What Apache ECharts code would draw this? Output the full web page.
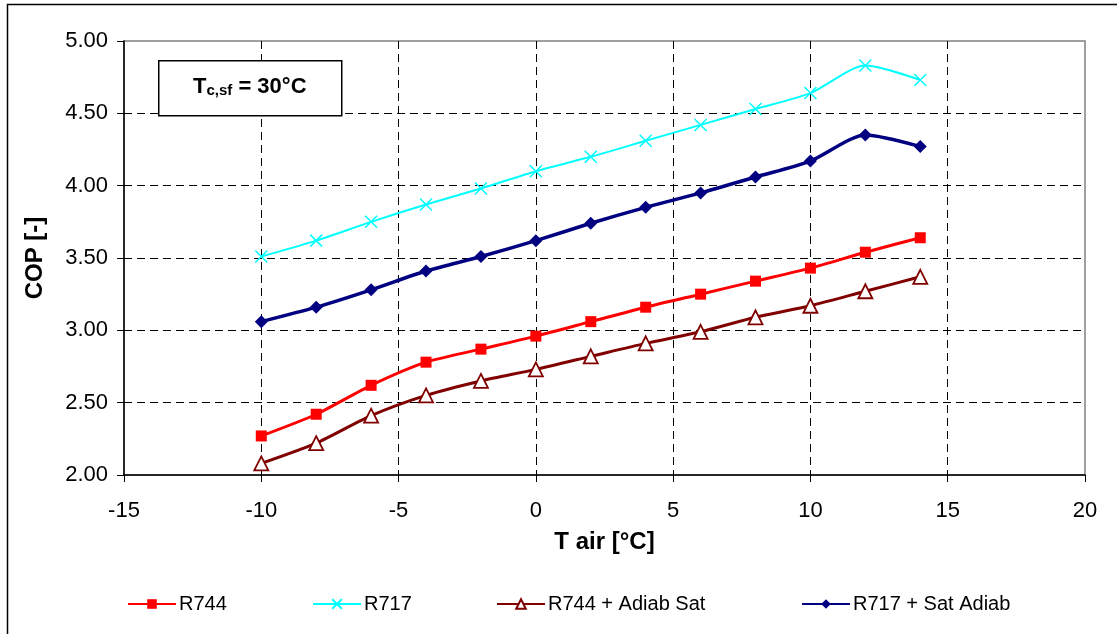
<!DOCTYPE html>
<html>
<head>
<meta charset="utf-8">
<script src="https://cdn.jsdelivr.net/npm/echarts@6/dist/echarts.min.js"></script>
<style>html,body{margin:0;padding:0;background:#fff;}#c{width:1117px;height:634px;}</style>
</head>
<body>
<div id="c"></div>
<script>
const tAir = [-10, -8, -6, -4, -2, 0, 2, 4, 6, 8, 10, 12, 14];
const r744 = [2.27, 2.42, 2.62, 2.78, 2.87, 2.96, 3.06, 3.16, 3.25, 3.34, 3.43, 3.54, 3.64];
const r717 = [3.51, 3.62, 3.75, 3.87, 3.98, 4.10, 4.20, 4.31, 4.42, 4.53, 4.64, 4.83, 4.73];
const r744Adiab = [2.08, 2.22, 2.41, 2.55, 2.65, 2.73, 2.82, 2.91, 2.99, 3.09, 3.17, 3.27, 3.37];
const r717Sat = [3.06, 3.16, 3.28, 3.41, 3.51, 3.62, 3.74, 3.85, 3.95, 4.06, 4.17, 4.35, 4.27];
const seriesNames = ['R744', 'R717', 'R744 + Adiab Sat', 'R717 + Sat Adiab'];

const pairs = arr => tAir.map((t, i) => [t, arr[i]]);
const FONT = 'Liberation Sans, Arial, sans-serif';
const xPath = 'path://M0,0L10,10M10,0L0,10';

const chart = echarts.init(document.getElementById('c'), null, {renderer: 'canvas'});
const legendLefts = [122, 307, 491, 796];
const option = {
  backgroundColor: '#fff',
  animation: false,
  textStyle: {fontFamily: FONT},
  grid: {left: 124, right: 32, top: 41, bottom: 159, show: true, borderColor: '#808080', borderWidth: 1.5, backgroundColor: 'transparent'},
  legend: seriesNames.map((n, i) => ({
    data: [n], left: legendLefts[i], top: 589, itemWidth: 48, itemHeight: 12, itemGap: 4,
    textStyle: {fontSize: 20, color: '#000', fontFamily: FONT, padding: [0, 0, 0, -2]}
  })),
  xAxis: {
    type: 'value', min: -15, max: 20, interval: 5,
    name: 'T air [°C]', nameLocation: 'middle', nameGap: 55,
    nameTextStyle: {fontSize: 24, fontWeight: 'bold', color: '#000', fontFamily: FONT},
    axisLine: {onZero: false, lineStyle: {color: '#000', width: 1.5}},
    axisTick: {show: true, length: 7, lineStyle: {color: '#000'}},
    axisLabel: {fontSize: 22, color: '#000', margin: 25, fontFamily: FONT},
    splitLine: {show: true, showMinLine: false, showMaxLine: false, lineStyle: {color: '#000', type: [8, 5], width: 1}}
  },
  yAxis: {
    type: 'value', min: 2, max: 5, interval: 0.5,
    name: 'COP [-]', nameLocation: 'middle', nameGap: 77, nameRotate: 90,
    nameTextStyle: {fontSize: 24, fontWeight: 'bold', color: '#000', fontFamily: FONT},
    axisLine: {show: true, onZero: false, lineStyle: {color: '#000', width: 1.5}},
    axisTick: {show: true, length: 7, lineStyle: {color: '#000'}},
    axisLabel: {fontSize: 22, color: '#000', margin: 16, fontFamily: FONT, formatter: v => v.toFixed(2)},
    splitLine: {show: true, showMinLine: false, showMaxLine: false, lineStyle: {color: '#000', type: [8, 5], width: 1}}
  },
  series: [
    {name: seriesNames[0], type: 'line', data: pairs(r744), smooth: 0.25,
     symbol: 'rect', symbolSize: 11,
     lineStyle: {color: '#FF0000', width: 3}, itemStyle: {color: '#FF0000'}, z: 3},
    {name: seriesNames[1], type: 'line', data: pairs(r717), smooth: 0.25,
     symbol: xPath, symbolSize: 12,
     lineStyle: {color: '#00FFFF', width: 2}, itemStyle: {color: '#00FFFF', borderColor: '#00FFFF', borderWidth: 1.5}, z: 3},
    {name: seriesNames[2], type: 'line', data: pairs(r744Adiab), smooth: 0.25,
     symbol: 'triangle', symbolSize: 14,
     lineStyle: {color: '#800000', width: 3}, itemStyle: {color: '#ffffff', borderColor: '#800000', borderWidth: 1.8}, z: 3},
    {name: seriesNames[3], type: 'line', data: pairs(r717Sat), smooth: 0.25,
     symbol: 'diamond', symbolSize: 13,
     lineStyle: {color: '#000080', width: 3.5}, itemStyle: {color: '#000080'}, z: 3}
  ],
  graphic: [
    {type: 'rect', left: 5, top: 2, shape: {width: 1200, height: 700}, silent: true, z: -1,
     style: {fill: 'none', stroke: '#000', lineWidth: 1.5}},
    {type: 'rect', left: 158, top: 60, shape: {width: 183, height: 55}, z: 10,
     style: {fill: '#fff', stroke: '#000', lineWidth: 1.5}},
    {type: 'text', left: 193, top: 76, z: 11,
     style: {
       text: '{a|T}{b|c,sf}{a| = 30°C}',
       rich: {
         a: {fontSize: 22, fontWeight: 'bold', fill: '#000', fontFamily: FONT, verticalAlign: 'bottom'},
         b: {fontSize: 15, fontWeight: 'bold', fill: '#000', fontFamily: FONT, padding: [9, 0, 0, 0], verticalAlign: 'bottom'}
       }
     }}
  ]
};
chart.setOption(option);
</script>
</body>
</html>
